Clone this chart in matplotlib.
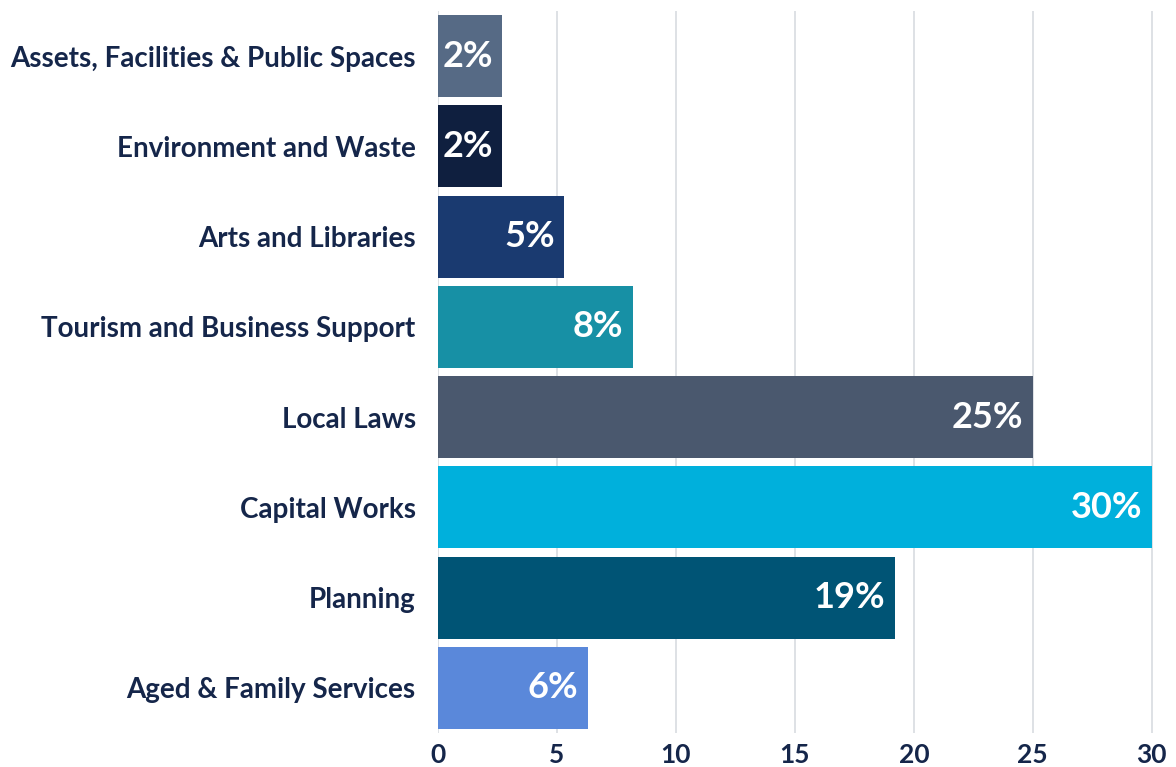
import matplotlib
matplotlib.use("Agg")
import matplotlib.pyplot as plt

categories = [
    "Assets, Facilities & Public Spaces",
    "Environment and Waste",
    "Arts and Libraries",
    "Tourism and Business Support",
    "Local Laws",
    "Capital Works",
    "Planning",
    "Aged & Family Services",
]
values = [2.7, 2.7, 5.3, 8.2, 25.0, 30.0, 19.2, 6.3]
labels = ["2%", "2%", "5%", "8%", "25%", "30%", "19%", "6%"]
colors = ["#566a85", "#0f1f3f", "#1a3a70", "#1790a5",
          "#4a586e", "#00b0dc", "#005475", "#5a88da"]
xticks = [0, 5, 10, 15, 20, 25, 30]

text_color = "#15264a"
plt.rcParams['font.family'] = ['Lato', 'DejaVu Sans']

fig = plt.figure(figsize=(11.76, 7.67), dpi=100)
ax = fig.add_axes([0.3724, 0.0443, 0.6080, 0.9414])

y = list(range(len(categories)))
ax.barh(y, values, height=0.91, color=colors, zorder=2)

for yi, v, lab in zip(y, values, labels):
    ax.text(v - 0.4, yi, lab, ha='right', va='center', color='white',
            fontsize=26, fontweight='bold', zorder=3)

ax.set_xlim(0, 30.05)
ax.set_ylim(len(categories) - 0.5, -0.5)
ax.set_yticks(y)
ax.set_yticklabels(categories, fontsize=20, fontweight='bold', color=text_color)
ax.set_xticks(xticks)
ax.set_xticklabels([str(t) for t in xticks], fontsize=19, fontweight='bold', color=text_color)
ax.tick_params(axis='both', length=0)
ax.tick_params(axis='y', pad=16)
ax.tick_params(axis='x', pad=7)

ax.grid(axis='x', color='#d8dbe0', linewidth=1.2, zorder=0)
for s in ax.spines.values():
    s.set_visible(False)

fig.savefig("out.png", dpi=100)
